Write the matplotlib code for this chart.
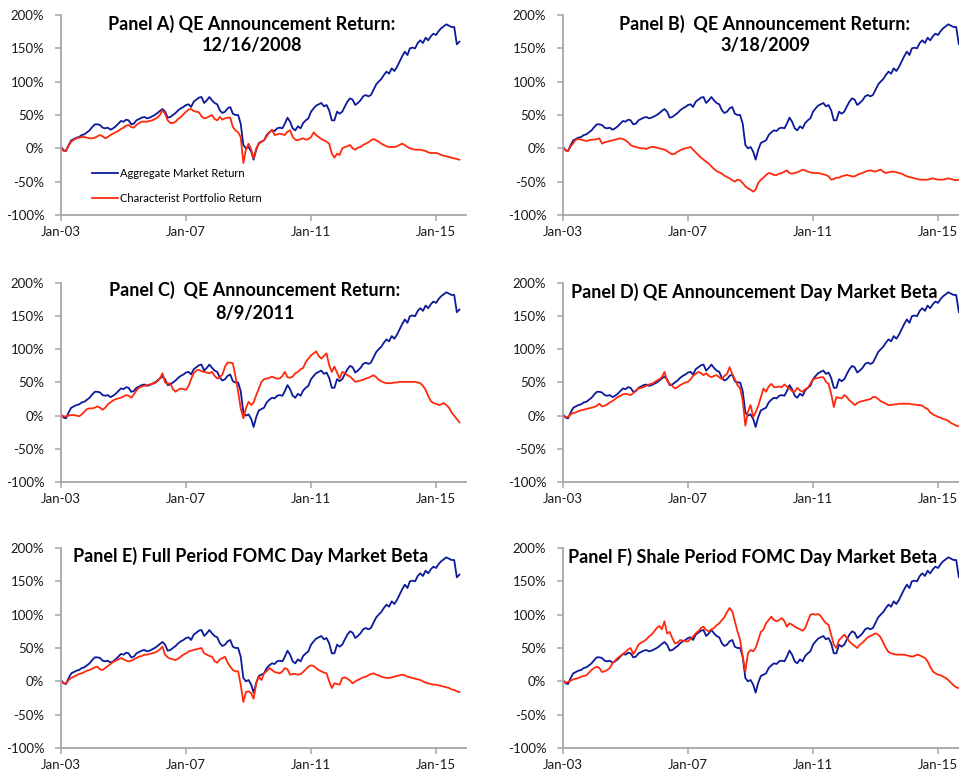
import numpy as np
import pandas as pd
import matplotlib
matplotlib.use('Agg')
import matplotlib.pyplot as plt
import matplotlib.dates as mdates
from matplotlib.ticker import FuncFormatter
import datetime as dt

plt.rcParams['font.family'] = ['Lato', 'DejaVu Sans']

# ---------------- data (monthly, starting Jan 2003, values in %) ----------------
start_month = '2003-01-01'

market = [
    2, -3, -4, 5, 12, 14, 16, 17, 20, 21, 24, 27,            # 2003
    32, 36, 36, 35, 31, 30, 31, 28, 30, 33, 37, 41,          # 2004
    40, 43, 42, 36, 37, 42, 44, 46, 47, 45, 46, 48,          # 2005
    50, 53, 56, 59, 55, 46, 47, 50, 53, 57, 60, 62,          # 2006
    65, 66, 62, 70, 73, 76, 77, 68, 72, 77, 72, 68,          # 2007
    66, 57, 53, 55, 60, 62, 52, 50, 50, 37, 5, 0,            # 2008
    2, -5, -17, -2, 8, 10, 12, 20, 24, 27, 26, 30,           # 2009
    31, 30, 37, 46, 40, 30, 27, 33, 30, 38, 42, 45,          # 2010
    55, 60, 64, 66, 68, 63, 65, 57, 42, 42, 55, 52,          # 2011
    55, 63, 70, 75, 73, 65, 68, 72, 78, 80, 78, 80,          # 2012
    88, 96, 100, 104, 110, 115, 112, 120, 116, 122, 130, 138,  # 2013
    145, 140, 150, 151, 150, 158, 162, 158, 166, 162, 168, 172,  # 2014
    170, 176, 180, 183, 186, 184, 182, 182, 156, 160,        # 2015
]

char_a = [
    0, -4, -3, 4, 10, 13, 15, 16, 17, 17, 16, 15,
    15, 16, 18, 20, 18, 15, 17, 20, 22, 24, 26, 29,
    31, 34, 35, 32, 31, 35, 38, 40, 40, 40, 41, 42,
    44, 46, 50, 57, 52, 42, 38, 38, 40, 44, 47, 51,
    55, 58, 59, 56, 55, 54, 48, 45, 46, 48, 50, 44,
    42, 47, 43, 45, 46, 46, 32, 27, 24, 17, -22, -2,
    7, -2, -15, 0, 7, 10, 12, 18, 24, 28, 20, 21,
    22, 21, 20, 25, 27, 17, 13, 12, 14, 15, 13, 14,
    17, 24, 20, 17, 14, 12, 10, 7, -8, -14, -8, -10,
    0, 2, 3, 5, 0, -2, 1, 2, 5, 7, 9, 12,
    14, 12, 10, 7, 5, 3, 2, 2, 2, 3, 5, 7,
    5, 2, 0, -1, -2, -2, -2, -3, -4, -6, -7, -7,
    -7, -8, -10, -11, -12, -13, -14, -15, -16, -17,
]

char_b = [
    0, -3, -4, 3, 8, 13, 14, 13, 12, 11, 12, 13,
    13, 14, 15, 7, 9, 10, 11, 12, 13, 14, 15, 14,
    12, 9, 5, 3, 2, 1, 0, 0, -1, 1, 2, 2,
    1, 0, -1, -2, -4, -7, -9, -8, -5, -3, -1, 0,
    1, 2, -2, -6, -10, -14, -17, -20, -23, -27, -31, -34,
    -36, -38, -41, -43, -45, -48, -50, -47, -48, -52, -57, -60,
    -62, -65, -62, -52, -47, -44, -40, -37, -38, -40, -40, -38,
    -37, -35, -33, -37, -38, -37, -36, -34, -32, -33, -35, -36,
    -37, -37, -37, -38, -39, -40, -42, -47, -46, -44, -44, -42,
    -41, -40, -41, -42, -42, -40, -38, -37, -35, -34, -33, -34,
    -35, -33, -32, -35, -37, -36, -35, -35, -36, -37, -38, -40,
    -42, -43, -44, -45, -46, -47, -47, -47, -47, -46, -45, -46,
    -47, -47, -47, -46, -45, -46, -47, -48, -47, -47,
]

char_c = [
    0, -1, -1, 0, 1, 1, 0, -1, 2, 6, 10, 11,
    11, 12, 14, 12, 9, 12, 17, 20, 23, 25, 26, 27,
    29, 31, 30, 27, 32, 38, 42, 44, 45, 46, 47, 48,
    49, 52, 56, 64, 50, 48, 49, 40, 36, 39, 41, 40,
    39, 45, 55, 64, 68, 69, 67, 66, 65, 64, 66, 60,
    56, 58, 62, 74, 80, 80, 79, 59, 36, 11, -4, 11,
    21, 16, 20, 31, 41, 51, 55, 56, 57, 59, 57, 56,
    56, 60, 66, 58, 57, 59, 64, 66, 70, 72, 81, 86,
    91, 94, 97, 90, 86, 90, 94, 76, 66, 74, 65, 56,
    66, 64, 61, 59, 55, 51, 52, 53, 54, 56, 57, 59,
    61, 58, 54, 52, 50, 49, 49, 49, 50, 50, 51, 51,
    51, 51, 51, 51, 51, 50, 49, 45, 39, 30, 22, 19,
    18, 16, 17, 19, 16, 12, 5, 0, -5, -10,
]

char_d = [
    0, -2, -2, 2, 4, 5, 7, 8, 9, 10, 11, 12,
    13, 15, 18, 14, 15, 17, 20, 22, 25, 28, 30, 32,
    33, 32, 31, 34, 38, 41, 42, 43, 45, 47, 48, 50,
    53, 55, 58, 66, 53, 48, 45, 41, 43, 46, 48, 50,
    51, 55, 60, 63, 66, 64, 61, 64, 60, 58, 60, 61,
    58, 55, 60, 63, 73, 63, 55, 46, 41, 23, -15, 6,
    16, -2, 5, 15, 28, 41, 36, 44, 48, 43, 43, 44,
    43, 47, 44, 41, 37, 36, 42, 38, 36, 40, 42, 48,
    55, 56, 57, 58, 58, 51, 48, 33, 13, 28, 27, 26,
    31, 28, 23, 20, 16, 19, 21, 22, 23, 24, 25, 28,
    28, 25, 22, 20, 18, 16, 16, 17, 17, 18, 18, 18,
    18, 18, 17, 17, 16, 16, 15, 12, 10, 5, 2, 0,
    -2, -3, -5, -6, -8, -11, -13, -15, -16, -17,
]

char_e = [
    0, -3, -3, 2, 5, 7, 9, 11, 12, 14, 16, 17,
    19, 21, 22, 18, 17, 20, 23, 26, 29, 31, 33, 35,
    33, 31, 30, 31, 33, 35, 37, 38, 40, 40, 41, 42,
    43, 45, 48, 52, 40, 36, 34, 33, 32, 34, 37, 40,
    42, 45, 46, 47, 48, 49, 50, 42, 40, 38, 37, 30,
    28, 33, 35, 37, 28, 22, 17, 15, 15, -5, -31, -16,
    -15, -18, -26, -3, 7, 2, 12, 15, 20, 17, 14, 13,
    12, 15, 20, 18, 10, 11, 11, 10, 11, 14, 18, 22,
    24, 23, 20, 17, 15, 13, 12, 0, -10, -3, -4, -5,
    5, 6, 4, 1, -3, 0, 2, 4, 6, 7, 9, 11,
    12, 10, 9, 7, 6, 5, 5, 6, 7, 8, 9, 10,
    9, 7, 6, 5, 4, 3, 2, 0, -2, -3, -4, -5,
    -5, -6, -7, -8, -9, -10, -12, -13, -15, -16,
]

char_f = [
    0, -2, -1, 1, 3, 4, 5, 7, 8, 9, 13, 17,
    20, 22, 20, 14, 15, 17, 20, 27, 31, 35, 38, 41,
    44, 48, 50, 41, 47, 55, 58, 60, 63, 67, 70, 75,
    80, 83, 78, 90, 72, 74, 65, 57, 58, 62, 61, 60,
    60, 64, 67, 72, 75, 80, 82, 77, 75, 78, 80, 84,
    87, 92, 96, 104, 110, 105, 90, 75, 62, 37, 15, 42,
    47, 45, 50, 62, 74, 78, 87, 92, 97, 92, 90, 92,
    95, 90, 82, 87, 85, 82, 80, 78, 76, 80, 90, 100,
    101, 100, 101, 98, 92, 87, 85, 70, 55, 50, 62, 66,
    70, 65, 60, 56, 53, 50, 55, 58, 62, 66, 68, 70,
    72, 70, 66, 58, 50, 44, 42, 41, 40, 40, 40, 40,
    39, 38, 37, 38, 40, 39, 37, 35, 30, 22, 15, 12,
    10, 9, 7, 5, 2, -2, -6, -9, -10, -11,
]

titles = [
    ["Panel A) QE Announcement Return:", "12/16/2008"],
    ["Panel B)  QE Announcement Return:", "3/18/2009"],
    ["Panel C)  QE Announcement Return:", "8/9/2011"],
    ["Panel D) QE Announcement Day Market Beta"],
    ["Panel E) Full Period FOMC Day Market Beta"],
    ["Panel F) Shale Period FOMC Day Market Beta"],
]
char_series = [char_a, char_b, char_c, char_d, char_e, char_f]
tick_years = [2003, 2007, 2011, 2015]
series_labels = ["Aggregate Market Return", "Characterist Portfolio Return"]

# ---------------- drawing ----------------
BLUE = '#0C1A9A'
RED = '#FF2A0D'
GRAY = '#A6A6A6'
TXT = '#1A1A1A'

W, H = 959, 777
fig = plt.figure(figsize=(W / 100, H / 100), dpi=100)
fig.patch.set_facecolor('white')

dates = pd.date_range(start_month, periods=len(market), freq='MS')

col_x = [61, 563]
row_top = [15, 283, 548]
row_bot = [215, 482, 748]
ax_w = 405

# title positions (pixel centres) per panel
title_pos = [
    (252, [24, 46]),
    (765, [24, 46]),
    (255, [290, 313]),
    (754, [292]),
    (251, [556]),
    (753, [557]),
]

pct = FuncFormatter(lambda v, _: f"{v:.0f}%")

for i, red in enumerate(char_series):
    r, c = divmod(i, 2)
    ax = fig.add_axes([col_x[c] / W, 1 - row_bot[r] / H, ax_w / W,
                       (row_bot[r] - row_top[r]) / H])
    ax.plot(dates, market, color=BLUE, lw=1.3, label=series_labels[0])
    ax.plot(dates, red, color=RED, lw=1.3, label=series_labels[1])
    ax.set_ylim(-100, 200)
    ax.set_xlim(dt.datetime(2003, 1, 1), dt.datetime(2015, 12, 17))
    ax.set_yticks(np.arange(-100, 201, 50))
    ax.yaxis.set_major_formatter(pct)
    ax.set_xticks([dt.datetime(y, 1, 1) for y in tick_years])
    ax.xaxis.set_major_formatter(mdates.DateFormatter('%b-%y'))
    for s in ('top', 'right'):
        ax.spines[s].set_visible(False)
    for s in ('left', 'bottom'):
        ax.spines[s].set_color(GRAY)
        ax.spines[s].set_linewidth(1.3)
    ax.tick_params(axis='both', direction='out', length=4, width=1.1,
                   color=GRAY, labelcolor=TXT, labelsize=9.5)
    ax.tick_params(axis='y', pad=8)
    ax.tick_params(axis='x', pad=4)

    cx, ys = title_pos[i]
    for line, cy in zip(titles[i], ys):
        fig.text(cx / W, 1 - cy / H, line, ha='center', va='center',
                 fontsize=13, fontweight='bold', color='black')

    if i == 0:
        ax.legend(loc='upper left', bbox_to_anchor=(0.0765, 0.237),
                  frameon=False, fontsize=8, handlelength=2.3,
                  handletextpad=0.25, labelspacing=1.3, borderpad=0,
                  borderaxespad=0)

fig.savefig('out.png', dpi=100)
